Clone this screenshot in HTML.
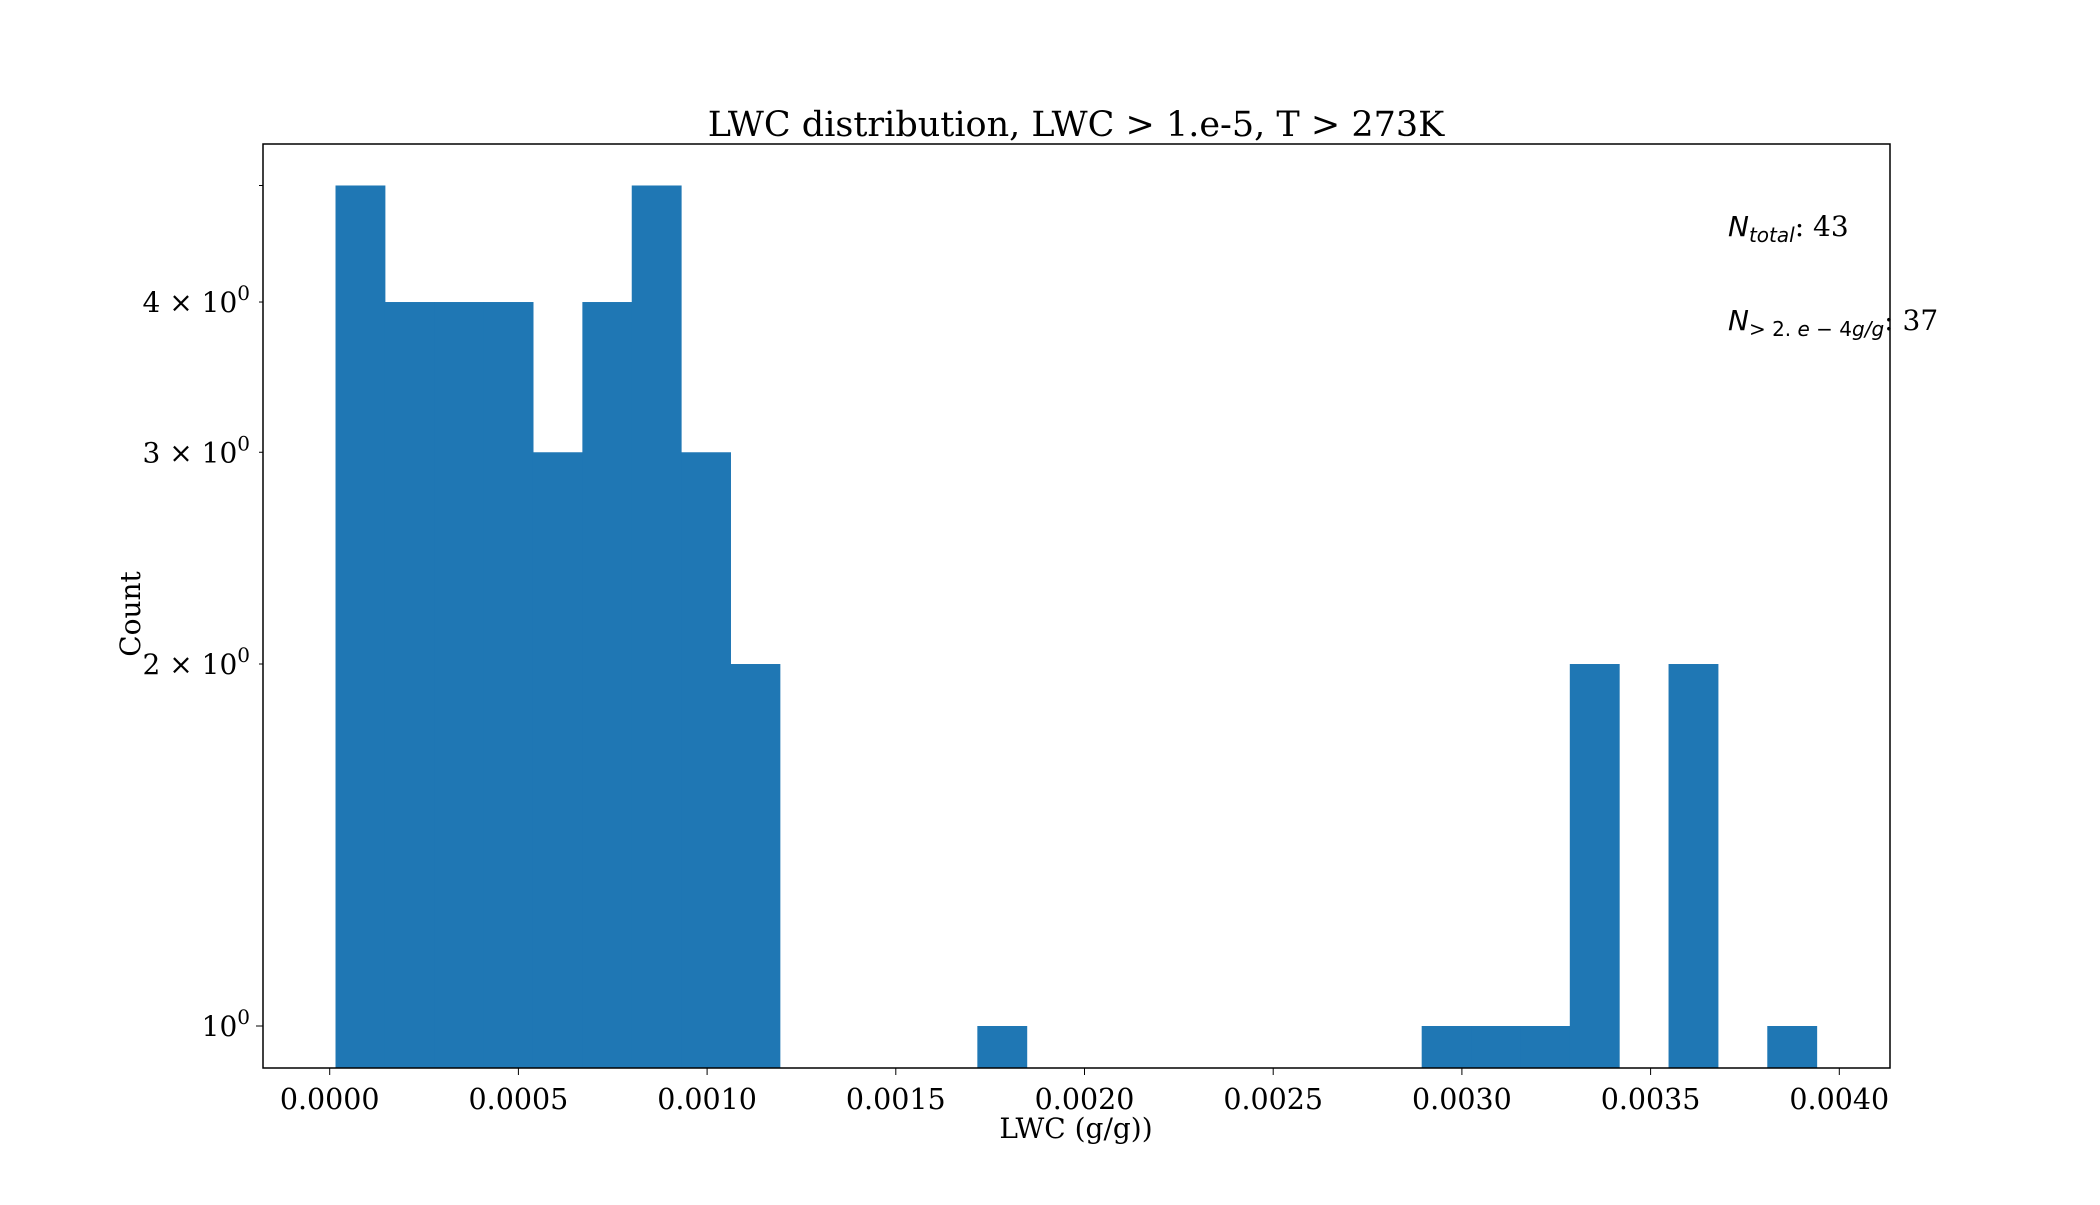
<!DOCTYPE html>
<html><head><meta charset="utf-8"><style>
body{margin:0;background:#fff}
svg text{font-family:"DejaVu Serif","Liberation Serif",serif;fill:#000}
.m{font-family:"DejaVu Sans","Liberation Sans",sans-serif;font-style:italic}
.u{font-family:"DejaVu Sans","Liberation Sans",sans-serif}
</style></head><body>
<svg id="chart" width="2100" height="1200" viewBox="0 0 2100 1200" xmlns="http://www.w3.org/2000/svg">
<text x="1076" y="136" font-size="35" text-anchor="middle">LWC distribution, LWC &gt; 1.e-5, T &gt; 273K</text>
<g id="bars"></g>
<g id="xticks"></g>
<g id="yticks"></g>
<rect x="263" y="144" width="1627" height="924" fill="none" stroke="#000" stroke-width="1.5"/>
<text x="1076" y="1146" font-size="28" text-anchor="middle" dy="-8">LWC (g/g))</text>
<text transform="translate(140,614) rotate(-90)" font-size="28" text-anchor="middle">Count</text>
<text x="1728" y="236" font-size="28"><tspan class="m">N</tspan><tspan class="m" font-size="20" dy="6">total</tspan><tspan dy="-6">: 43</tspan></text>
<text x="1728" y="330" font-size="28"><tspan class="m">N</tspan><tspan class="u" font-size="20" dy="6">&gt; 2. </tspan><tspan class="m" font-size="20">e</tspan><tspan class="u" font-size="20"> − 4</tspan><tspan class="m" font-size="20">g/g</tspan><tspan dy="-6">: 37</tspan></text>
</svg>
<script>
const counts=[5,4,4,4,3,4,5,3,2,0,0,0,0,1,0,0,0,0,0,0,0,0,1,1,1,2,0,2,0,1];
const binStart=0.0000154, binEnd=0.00394;
const xTicks=[0,0.0005,0.001,0.0015,0.002,0.0025,0.003,0.0035,0.004];
const xTickLabels=["0.0000","0.0005","0.0010","0.0015","0.0020","0.0025","0.0030","0.0035","0.0040"];
const yTicks=[1,2,3,4,5];
const yTickLabels=["10^0","2 × 10^0","3 × 10^0","4 × 10^0",""];
const ns="http://www.w3.org/2000/svg";
const x=v=>329.7+v*377400;
const y=c=>1026-Math.log10(c)*1202.5;
const yBottom=1068;
const bars=document.getElementById('bars');
const bw=(binEnd-binStart)/counts.length;
counts.forEach((c,i)=>{if(!c)return;
 const r=document.createElementNS(ns,'rect');
 
 
 const x0=x(binStart+i*bw),x1=x(binStart+(i+1)*bw);
 r.setAttribute('x',x0);r.setAttribute('width',x1-x0+0.5);
 r.setAttribute('y',y(c));r.setAttribute('height',yBottom-y(c));
 r.setAttribute('fill','#1f77b4');bars.appendChild(r);});
const xt=document.getElementById('xticks');
xTicks.forEach((v,i)=>{
 const l=document.createElementNS(ns,'line');
 
 
 l.setAttribute('x1',x(v));l.setAttribute('x2',x(v));l.setAttribute('y1',1068);l.setAttribute('y2',1075);l.setAttribute('stroke','#000');xt.appendChild(l);
 const t=document.createElementNS(ns,'text');
 
 
 t.setAttribute('x',x(v));t.setAttribute('y',1109);t.setAttribute('font-size','28.5');t.setAttribute('text-anchor','middle');t.textContent=xTickLabels[i];xt.appendChild(t);});
const yt=document.getElementById('yticks');
yTicks.forEach((v,i)=>{
 const major=v===1;
 const l=document.createElementNS(ns,'line');
 
 
 l.setAttribute('x1',major?256:259);l.setAttribute('x2',263);l.setAttribute('y1',y(v));l.setAttribute('y2',y(v));l.setAttribute('stroke','#000');yt.appendChild(l);
 const lab=yTickLabels[i];if(!lab)return;
 const parts=lab.split('^');
 const t=document.createElementNS(ns,'text');
 
 
 t.setAttribute('x',250);t.setAttribute('y',y(v)+10);t.setAttribute('font-size','28');t.setAttribute('text-anchor','end');
 const a=document.createElementNS(ns,'tspan');a.textContent=parts[0];t.appendChild(a);
 const b=document.createElementNS(ns,'tspan');b.setAttribute('font-size','20');b.setAttribute('dy','-12');b.textContent=parts[1];t.appendChild(b);
 yt.appendChild(t);});
</script>
</body></html>
